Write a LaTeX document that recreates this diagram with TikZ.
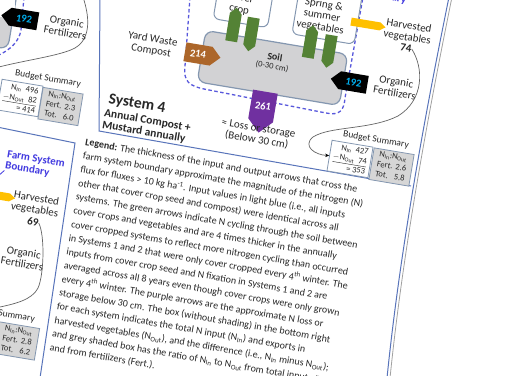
\documentclass[tikz,border=0pt]{standalone}
\usepackage{fontspec}
\setmainfont{Carlito}
\usetikzlibrary{shapes.symbols,arrows.meta}
\definecolor{soilgrey}{RGB}{210,210,212}
\definecolor{boxedge}{RGB}{132,151,176}
\definecolor{panelblue}{RGB}{88,116,186}
\definecolor{dashblue}{RGB}{88,88,220}
\definecolor{labelblue}{RGB}{66,58,224}
\definecolor{arrbrown}{RGB}{172,102,42}
\definecolor{arrpurple}{RGB}{112,48,160}
\definecolor{arrgreen}{RGB}{84,130,53}
\definecolor{arryellow}{RGB}{255,192,0}
\definecolor{numcyan}{RGB}{0,176,240}
\definecolor{txt}{RGB}{40,40,40}
\definecolor{curvegrey}{RGB}{100,100,100}
\definecolor{budgetgrey}{RGB}{214,214,214}
\definecolor{pageedge}{RGB}{160,160,160}
\begin{document}
\begin{tikzpicture}[x=1pt,y=-1pt,
  rot/.style={rotate=-9.5},
  lbl/.style={rot, text=txt, font=\fontsize{11}{11.5}\selectfont, align=center, inner sep=0pt},
  blk/.style={signal, signal from=nowhere, rot, inner sep=0pt, text=white, font=\bfseries\fontsize{10.5}{12}\selectfont},
  whitebox/.style={rot, draw=boxedge, line width=1pt, rounded corners=6pt, fill=white},
  soilbox/.style={rot, draw=boxedge, line width=1.2pt, rounded corners=8pt, fill=soilgrey},
  budbox/.style={rot, draw=boxedge, line width=0.8pt, minimum height=31pt, inner sep=1pt, text=txt, font=\fontsize{8.5}{10}\selectfont},
  budtitle/.style={rot, text=txt, inner sep=0pt, font=\fontsize{9.5}{11}\selectfont},
  boundary/.style={draw=dashblue, line width=1.3pt, dash pattern=on 3.5pt off 2.5pt},
  panel/.style={draw=panelblue, line width=1pt},
  conn/.style={draw=curvegrey, line width=0.7pt, -{Stealth[length=4pt,width=3.5pt,black]}},
  bluelbl/.style={rot, text=labelblue, font=\bfseries\fontsize{11}{11.5}\selectfont, align=left, inner sep=0pt},
  legendtxt/.style={rotate=-9.8, text=txt, align=left, inner sep=0pt, font=\fontsize{10}{13.9}\selectfont}
]
\useasboundingbox (0,0) rectangle (513,375);
\clip (0,0) rectangle (513,375);
\fill[white] (0,0) rectangle (513,375);

% ---------- panel lines ----------
\draw[panel] (100,-3) -- (99,131) -- (411,186);
\draw[panel] (-3,127) -- (75,143) -- (40,378);
\draw[panel] (449,-3) .. controls (425,115) and (400,250) .. (387,378);
\draw[draw=pageedge, line width=0.8pt] (452,-3) .. controls (428,115) and (403,250) .. (390,378);

% ---------- top-left panel (partial) ----------
\node[soilbox, minimum width=66pt, minimum height=58pt] (soilA) at (-20,15) {};
\fill[white] (0,0) rectangle (15,17);
\draw[boundary] (24,-3) -- (21,30) .. controls (19,42) and (10,50) .. (-3,56);
\coordinate (tlA) at (83,-3);
\coordinate (tlB) at (-5,68);
\draw[draw=curvegrey, line width=0.7pt] (tlA) .. controls (89,15) and (92,38) .. (75,48) .. controls (60,56) and (25,60) .. (tlB);
\node[blk, fill=black, text=numcyan, signal to=west, minimum width=37pt, minimum height=18pt] (ofA) at (24,19) {192};
\node[lbl] (oflA) at (66,27) {Organic\\Fertilizers};
\node[budtitle] (btA) at (48,79) {Budget Summary};
\node[budbox, fill=white, minimum width=41.5pt, align=right] (bwA) at (20,98) {N\textsubscript{In}~~496\\\underline{$-$N\textsubscript{Out}~~82}\\= 414};
\node[budbox, fill=budgetgrey, minimum width=40.5pt] (bgA) at (60.5,106.5) {\begin{tabular}{@{}l@{\hspace{3pt}}r@{}}\multicolumn{2}{@{}c@{}}{N\textsubscript{In}:N\textsubscript{Out}}\\Fert. & 2.3\\Tot. & 6.0\end{tabular}};

% ---------- System 4 panel ----------
\draw[boundary] (190,-3) -- (185,66) .. controls (183,82) and (190,86) .. (204,89) -- (326,113) .. controls (340,116) and (344,110) .. (345,98) -- (363,-3);
\node[whitebox, minimum width=55pt, minimum height=45pt] (cc) at (244,1) {};
\node[lbl] (cct) at (240,4) {Cover\\crop};
\node[whitebox, minimum width=63pt, minimum height=55pt] (veg) at (327.5,12) {};
\node[lbl] (vegt) at (322,16) {Spring \&\\summer\\vegetables};
\node[soilbox, minimum width=144pt, minimum height=52pt] (soil) at (272.5,68) {};
\node[rot, inner sep=0pt, text=txt, font=\bfseries\fontsize{10}{12}\selectfont] (soilt) at (275,57) {Soil};
\node[rot, inner sep=0pt, text=txt, font=\fontsize{8.5}{10}\selectfont] (soild) at (272,66.5) {(0-30 cm)};

\node[blk, fill=arrgreen, signal to=north, minimum width=12pt, minimum height=28pt] (g1) at (233.5,27.5) {};
\node[blk, fill=arrgreen, signal to=south, minimum width=12pt, minimum height=28pt] (g2) at (251.5,31.5) {};
\node[blk, fill=arrgreen, signal to=north, minimum width=12pt, minimum height=27pt] (g3) at (310,44.5) {};
\node[blk, fill=arrgreen, signal to=south, minimum width=12pt, minimum height=27pt] (g4) at (329.5,48.5) {};

\node[blk, fill=arrbrown, signal to=east, minimum width=36pt, minimum height=19pt] (yw) at (198,54) {214};
\node[lbl] (ywt) at (152,45) {Yard Waste\\Compost};

\node[blk, fill=arrpurple, signal to=south, minimum width=25pt, minimum height=37pt] (loss) at (263,106) {261};
\node[lbl] (losst) at (257.5,134.5) {≈ Loss or storage\\(Below 30 cm)};

\node[blk, fill=black, text=numcyan, signal to=west, minimum width=37pt, minimum height=18pt] (of) at (353.5,82.5) {192};
\node[lbl] (oft) at (395.5,87) {Organic\\Fertilizers};

\node[blk, fill=arryellow, signal to=east, signal pointer angle=70, minimum width=35pt, minimum height=8pt] (hv) at (365.5,24) {};
\node[lbl] (hvt) at (408,32) {Harvested\\vegetables};
\node[lbl, font=\bfseries\fontsize{11}{11.5}\selectfont] (hvn) at (406,48) {74};
\node[bluelbl] (fsbA) at (392,-8) {Farm System\\Boundary};

\node[budtitle] (bt) at (376,140) {Budget Summary};
\node[budbox, fill=white, minimum width=41.5pt, align=right] (bw) at (350,159) {N\textsubscript{In}~~427\\\underline{$-$N\textsubscript{Out}~~74}\\= 353};
\node[budbox, fill=budgetgrey, minimum width=40.5pt] (bg) at (391.5,167) {\begin{tabular}{@{}l@{\hspace{3pt}}r@{}}\multicolumn{2}{@{}c@{}}{N\textsubscript{In}:N\textsubscript{Out}}\\Fert. & 2.6\\Tot. & 5.8\end{tabular}};
\draw[conn] (hvn.east) .. controls (424,68) and (424,100) .. (398,116) .. controls (370,130) and (330,126) .. (313,137) .. controls (302,146) and (315,155) .. (bw.west);

\node[rot, text=txt, inner sep=0pt, font=\bfseries\fontsize{15.5}{18}\selectfont] (s4) at (137,104) {System 4};
\node[rot, text=txt, inner sep=0pt, align=left, font=\bfseries\fontsize{11.5}{11.5}\selectfont] (s4d) at (146.5,126.5) {Annual Compost +\\Mustard annually};

% ---------- bottom-left panel (partial) ----------
\node[bluelbl] (fsb) at (35,165) {Farm System\\Boundary};
\coordinate (fsbl) at (-3,177);
\draw[draw=labelblue, line width=0.8pt] (fsb.south west) -- (fsbl);
\node[blk, fill=arryellow, signal to=east, signal pointer angle=70, minimum width=35pt, minimum height=8pt] (hvB) at (-5,195) {};
\node[lbl] (hvtB) at (35.5,204.5) {Harvested\\vegetables};
\node[lbl, font=\bfseries\fontsize{11}{11.5}\selectfont] (hvnB) at (33,222) {69};
\node[blk, fill=black, signal to=west, minimum width=37pt, minimum height=18pt] (ofB) at (-16.5,249) {};
\node[lbl] (oftB) at (23,258) {Organic\\Fertilizers};
\coordinate (blB) at (-5,308);
\draw[draw=curvegrey, line width=0.7pt] (hvnB.east) .. controls (45,235) and (44,275) .. (38,288) .. controls (32,300) and (15,304) .. (blB);
\node[budtitle] (btB) at (2,314) {Budget Summary};
\node[budbox, fill=white, minimum width=41.5pt] (bwB) at (-24,333) {};
\node[budbox, fill=budgetgrey, minimum width=40.5pt] (bgB) at (17,341) {\begin{tabular}{@{}l@{\hspace{3pt}}r@{}}\multicolumn{2}{@{}c@{}}{N\textsubscript{In}:N\textsubscript{Out}}\\Fert. & 2.8\\Tot. & 6.2\end{tabular}};

% ---------- legend ----------
\node[legendtxt, anchor=north west] (leg) at (86,138) {\textbf{Legend:} The thickness of the input and output arrows that cross the\\
farm system boundary approximate the magnitude of the nitrogen (N)\\
flux for fluxes > 10 kg ha\textsuperscript{-1}. Input values in light blue (i.e., all inputs\\
other that cover crop seed and compost) were identical across all\\
systems. The green arrows indicate N cycling through the soil between\\
cover crops and vegetables and are 4 times thicker in the annually\\
cover cropped systems to reflect more nitrogen cycling than occurred\\
in Systems 1 and 2 that were only cover cropped every 4\textsuperscript{th} winter. The\\
inputs from cover crop seed and N fixation in Systems 1 and 2 are\\
averaged across all 8 years even though cover crops were only grown\\
every 4\textsuperscript{th} winter. The purple arrows are the approximate N loss or\\
storage below 30 cm. The box (without shading) in the bottom right\\
for each system indicates the total N input (N\textsubscript{In}) and exports in\\
harvested vegetables (N\textsubscript{Out}), and the difference (i.e., N\textsubscript{In} minus N\textsubscript{Out});\\
and grey shaded box has the ratio of N\textsubscript{In} to N\textsubscript{Out} from total inputs (Tot.)\\
and from fertilizers (Fert.).};
\end{tikzpicture}
\end{document}
